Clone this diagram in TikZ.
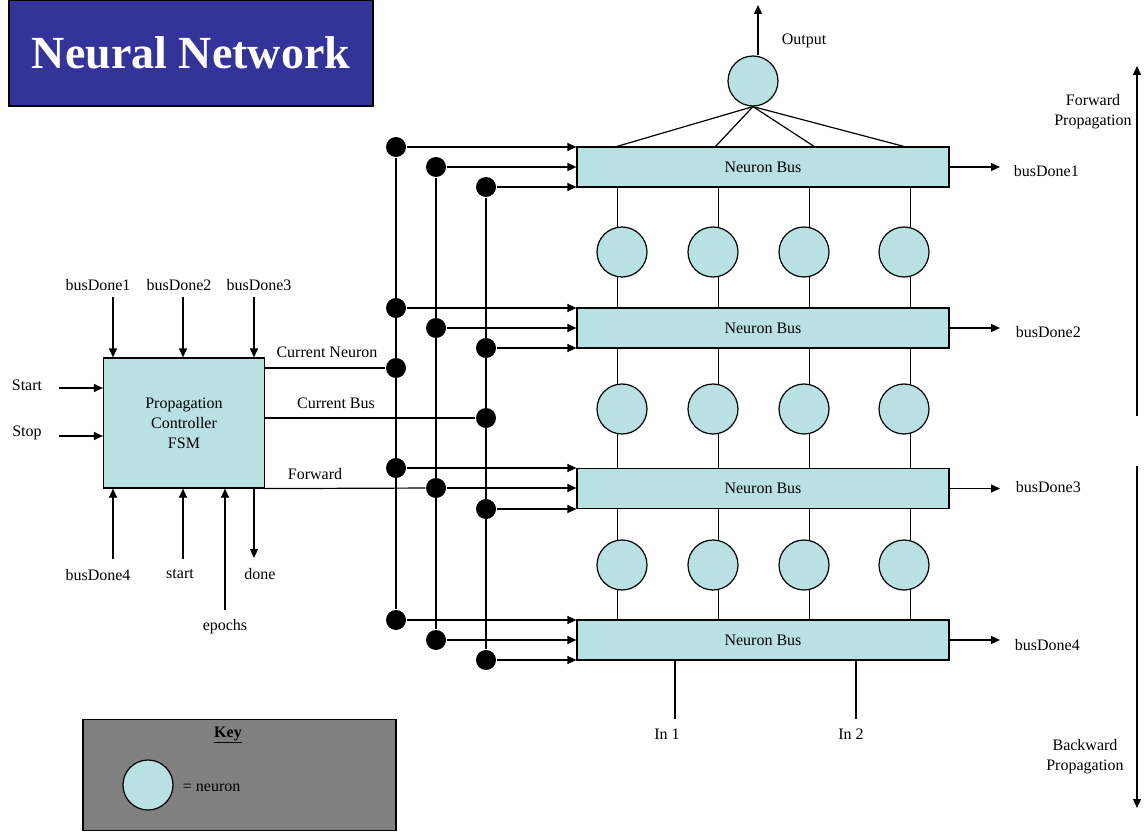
\documentclass[tikz,border=0pt]{standalone}
\usepackage{fontspec}
\setmainfont{Liberation Serif}
\usepackage{xcolor}
\usetikzlibrary{arrows.meta,backgrounds}
\definecolor{cellcyan}{RGB}{185,224,227}
\definecolor{titleblue}{RGB}{51,51,153}
\definecolor{keygray}{RGB}{128,128,128}

\begin{document}
\begin{tikzpicture}[x=1pt,y=-1pt,line width=1.2pt,%
% common options for text:
every node/.style = {font=\fontsize{16}{20}\selectfont},
% common options for the buses:
bus/.style = {draw, fill=cellcyan, minimum width=372pt, minimum height=40pt, inner sep=0},
% common options for the neurons:
neuron/.style = {circle, draw, fill=cellcyan, minimum size=50pt, inner sep=0},
% common options for the junctions:
dot/.style = {circle, fill=black, minimum size=20pt, inner sep=0},
arr/.style = {-{Triangle[length=9pt,width=8pt]}}]
\useasboundingbox (0,0) rectangle (1146,834);
% title
\node[draw, fill=titleblue, text=white, font=\fontsize{46}{50}\selectfont\bfseries,
      minimum width=364pt, minimum height=106pt, inner sep=0] (title) at (191,53) {Neural Network};
% buses
\node[bus] (bus1) at (763,167) {Neuron Bus};
\node[bus] (bus2) at (763,328) {Neuron Bus};
\node[bus] (bus3) at (763,488.5) {Neuron Bus};
\node[bus] (bus4) at (763,640) {Neuron Bus};
% neurons
\node[neuron] (out) at (753,81) {};
\node[neuron] (n11) at (622,252) {};
\node[neuron] (n12) at (713,252) {};
\node[neuron] (n13) at (804,252) {};
\node[neuron] (n14) at (904,252) {};
\node[neuron] (n21) at (622,409) {};
\node[neuron] (n22) at (713,409) {};
\node[neuron] (n23) at (804,409) {};
\node[neuron] (n24) at (904,409) {};
\node[neuron] (n31) at (622,565) {};
\node[neuron] (n32) at (713,565) {};
\node[neuron] (n33) at (804,565) {};
\node[neuron] (n34) at (904,565) {};
\coordinate (l1) at (617,0);
\coordinate (l2) at (718,0);
\coordinate (l3) at (809,0);
\coordinate (l4) at (910,0);
\begin{scope}[on background layer]
\draw (bus1.south -| l1) -- (bus4.north -| l1);
\draw (bus1.south -| l2) -- (bus4.north -| l2);
\draw (bus1.south -| l3) -- (bus4.north -| l3);
\draw (bus1.south -| l4) -- (bus4.north -| l4);
\end{scope}
% output neuron
\coordinate (o1) at (615,147);
\coordinate (o2) at (715,147);
\coordinate (o3) at (815,147);
\coordinate (o4) at (906,147);
\draw (out.south) -- (o1);
\draw (out.south) -- (o2);
\draw (out.south) -- (o3);
\draw (out.south) -- (o4);
\coordinate (otip) at (758,5);
\draw[arr] (otip |- out.north) -- (otip);
\node (outl) at (804,41) {Output};
% bus done outputs
\node[anchor=west] (bd1r) at (1010,171) {busDone1};
\node[anchor=west] (bd2r) at (1012,332) {busDone2};
\node[anchor=west] (bd3r) at (1012,487) {busDone3};
\node[anchor=west] (bd4r) at (1011,645) {busDone4};
\draw[arr] (bus1.east) -- (1000,167);
\draw[arr] (bus2.east) -- (1000,328);
\draw[arr] (bus3.east) -- (1000,488.5);
\draw[arr] (bus4.east) -- (1000,640);
% direction
\node[align=center] (fwd) at (1093,112) {Forward\\Propagation};
\node[align=center] (bwd) at (1085,757) {Backward\\Propagation};
\coordinate (ftop) at (1137,66);
\coordinate (fbot) at (1137,416);
\coordinate (btop) at (1137,466);
\coordinate (bbot) at (1137,808);
\draw[arr] (fbot) -- (ftop);
\draw[arr] (btop) -- (bbot);
% inputs
\coordinate (in1e) at (675,719);
\coordinate (in2e) at (856,719);
\draw (bus4.south -| in1e) -- (in1e);
\draw (bus4.south -| in2e) -- (in2e);
\node (in1) at (667,734) {In 1};
\node (in2) at (851,734) {In 2};
% junctions
\node[dot] (a1) at (396,147) {};
\node[dot] (b1) at (436,167) {};
\node[dot] (c1) at (486,187) {};
\node[dot] (a2) at (396,308) {};
\node[dot] (b2) at (436,328) {};
\node[dot] (c2) at (486,348) {};
\node[dot] (a3) at (396,468) {};
\node[dot] (b3) at (436,488) {};
\node[dot] (c3) at (486,509) {};
\node[dot] (a4) at (396,620) {};
\node[dot] (b4) at (436,640) {};
\node[dot] (c4) at (486,660) {};
\node[dot] (cn) at (396,368) {};
\node[dot] (cb) at (486,418) {};
\draw (a1) -- (a4);
\draw (b1) -- (b4);
\draw (c1) -- (c4);
\draw[arr] (a1) -- (a1 -| bus1.west);
\draw[arr] (b1) -- (b1 -| bus1.west);
\draw[arr] (c1) -- (c1 -| bus1.west);
\draw[arr] (a2) -- (a2 -| bus2.west);
\draw[arr] (b2) -- (b2 -| bus2.west);
\draw[arr] (c2) -- (c2 -| bus2.west);
\draw[arr] (a3) -- (a3 -| bus3.west);
\draw[arr] (b3) -- (b3 -| bus3.west);
\draw[arr] (c3) -- (c3 -| bus3.west);
\draw[arr] (a4) -- (a4 -| bus4.west);
\draw[arr] (b4) -- (b4 -| bus4.west);
\draw[arr] (c4) -- (c4 -| bus4.west);
% controller
\node[draw, fill=cellcyan, align=center, minimum width=161pt, minimum height=130pt, inner sep=0] (fsm) at (184,423)
  {Propagation\\Controller\\FSM};
\draw (fsm.east |- cn) -- (cn);
\draw (fsm.east |- cb) -- (cb);
\draw (fsm.south east) -- (b3);
\node (cnl) at (327,352) {Current Neuron};
\node (cbl) at (336,403) {Current Bus};
\node (fwl) at (315,474) {Forward};
% controller inputs
\node (bd1) at (98,285) {busDone1};
\node (bd2) at (179,285) {busDone2};
\node (bd3) at (259,285) {busDone3};
\coordinate (t1) at (113,297);
\coordinate (t2) at (183,297);
\coordinate (t3) at (254,297);
\draw[arr] (t1) -- (t1 |- fsm.north);
\draw[arr] (t2) -- (t2 |- fsm.north);
\draw[arr] (t3) -- (t3 |- fsm.north);
\node (startl) at (27,385) {Start};
\node (stopl) at (27,433) {Stop};
\coordinate (s1) at (59,388);
\coordinate (s2) at (59,436);
\draw[arr] (s1) -- (s1 -| fsm.west);
\draw[arr] (s2) -- (s2 -| fsm.west);
\node (bd4) at (98,575) {busDone4};
\node (st) at (180,574) {start};
\node (dn) at (260,574) {done};
\node (ep) at (225,627) {epochs};
\coordinate (u1) at (113,559);
\coordinate (u2) at (183,559);
\coordinate (u3) at (225,610);
\coordinate (u4) at (254,558);
\draw[arr] (u1) -- (u1 |- fsm.south);
\draw[arr] (u2) -- (u2 |- fsm.south);
\draw[arr] (u3) -- (u3 |- fsm.south);
\draw[arr] (u4 |- fsm.south) -- (u4);
% key
\node[draw, fill=keygray, minimum width=313pt, minimum height=111pt, inner sep=0] (key) at (239.5,775) {};
\node[font=\fontsize{16}{20}\selectfont\bfseries] (keyt) at (228,735) {\underline{Key}};
\node[neuron] (keyn) at (148,785) {};
\node[anchor=west] (keyl) at (179,788) {= neuron};
\end{tikzpicture}
\end{document}
